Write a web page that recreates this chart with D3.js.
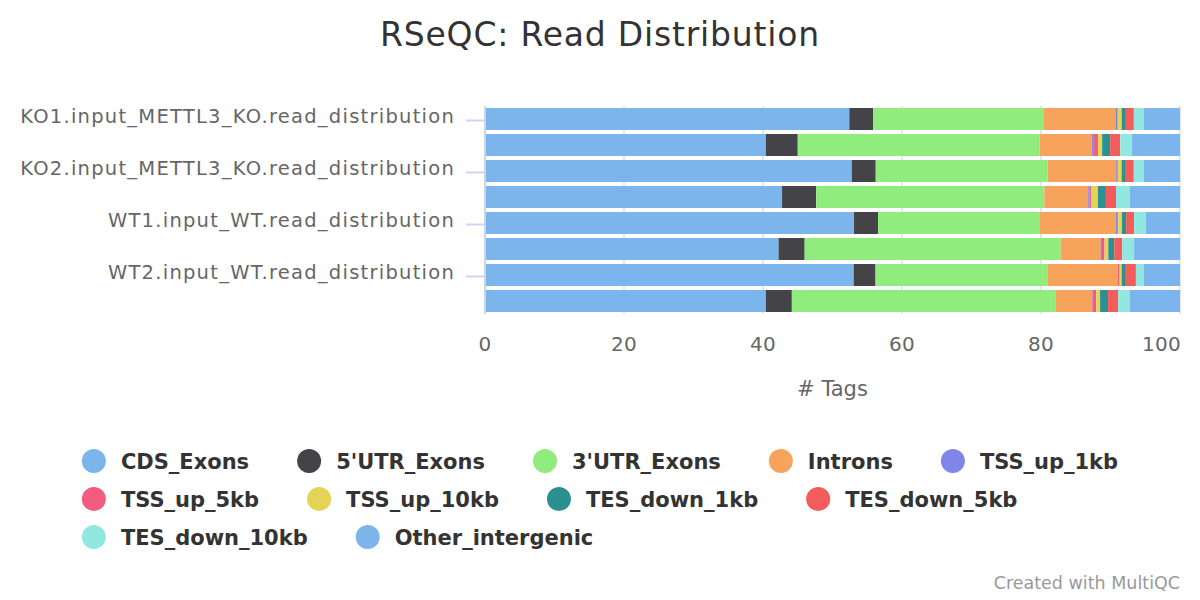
<!DOCTYPE html>
<html>
<head>
<meta charset="utf-8">
<script src="https://cdn.jsdelivr.net/npm/d3@7"></script>
<style>
  html, body { margin: 0; padding: 0; background: #fff; }
  svg { display: block; font-family: "DejaVu Sans", sans-serif; }
</style>
</head>
<body>
<svg id="chart" width="1200" height="600"></svg>
<script>
// ---------------- data ----------------
const categories = [
  "KO1.input_METTL3_KO.read_distribution",
  "KO1.IP_METTL3_KO.read_distribution",
  "KO2.input_METTL3_KO.read_distribution",
  "KO2.IP_METTL3_KO.read_distribution",
  "WT1.input_WT.read_distribution",
  "WT1.IP_WT.read_distribution",
  "WT2.input_WT.read_distribution",
  "WT2.IP_WT.read_distribution"
];
const seriesNames = ["CDS_Exons", "5'UTR_Exons", "3'UTR_Exons", "Introns", "TSS_up_1kb",
  "TSS_up_5kb", "TSS_up_10kb", "TES_down_1kb", "TES_down_5kb", "TES_down_10kb", "Other_intergenic"];
const seriesColors = ["#7cb5ec", "#434348", "#90ed7d", "#f7a35c", "#8085e9",
  "#f15c80", "#e4d354", "#2b908f", "#f45b5b", "#91e8e1", "#7cb5ec"];

const CDS_Exons        = [52.5, 40.4, 52.8, 42.7, 53.1, 42.2, 53.1, 40.4];
const UTR5_Exons       = [3.45, 4.6, 3.45, 4.9, 3.45, 3.75, 3.15, 3.75];
const UTR3_Exons       = [24.5, 34.8, 24.75, 32.8, 23.3, 36.8, 24.75, 38.0];
const Introns          = [10.4, 7.5, 9.8, 6.3, 10.9, 5.75, 10.1, 5.2];
const TSS_up_1kb       = [0.3, 0.3, 0.15, 0.2, 0.3, 0.05, 0.05, 0.05];
const TSS_up_5kb       = [0.05, 0.6, 0.15, 0.2, 0.05, 0.5, 0.25, 0.55];
const TSS_up_10kb      = [0.55, 0.6, 0.55, 1.0, 0.55, 0.55, 0.3, 0.55];
const TES_down_1kb     = [0.6, 1.15, 0.6, 1.15, 0.6, 0.85, 0.6, 1.15];
const TES_down_5kb     = [1.15, 1.45, 1.15, 1.45, 1.15, 1.15, 1.45, 1.45];
const TES_down_10kb    = [1.45, 1.7, 1.45, 2.0, 1.7, 1.7, 1.15, 1.7];
const Other_intergenic = [5.2, 6.9, 5.2, 7.2, 4.9, 6.6, 5.2, 7.2];

const xTicks = [0, 20, 40, 60, 80, 100];
const titleText = "RSeQC: Read Distribution";
const xAxisTitle = "# Tags";
const creditText = "Created with MultiQC";

// ---------------- build table ----------------
const seriesValues = [CDS_Exons, UTR5_Exons, UTR3_Exons, Introns, TSS_up_1kb, TSS_up_5kb,
  TSS_up_10kb, TES_down_1kb, TES_down_5kb, TES_down_10kb, Other_intergenic];
const table = categories.map((c, i) => {
  const row = { category: c };
  seriesNames.forEach((s, j) => row[s] = seriesValues[j][i]);
  return row;
});
const stacked = d3.stack().keys(seriesNames).offset(d3.stackOffsetExpand)(table);

// ---------------- layout ----------------
const svg = d3.select("#chart");
const plot = { left: 485, right: 1180, top: 106, bottom: 314 };

const x = d3.scaleLinear().domain([0, 100]).range([plot.left, plot.right]);
const y = d3.scaleBand().domain(categories).range([plot.top, plot.bottom])
  .paddingInner(4 / 26).paddingOuter(2 / 26);

// title
svg.append("text")
  .attr("x", 600).attr("y", 46)
  .attr("text-anchor", "middle")
  .attr("font-size", 33).attr("letter-spacing", 0.8)
  .attr("fill", "#333333")
  .text(titleText);

// grid lines
svg.append("g").selectAll("line").data(xTicks).join("line")
  .attr("x1", d => x(d)).attr("x2", d => x(d))
  .attr("y1", plot.top).attr("y2", plot.bottom)
  .attr("stroke", "#e6e6e6").attr("stroke-width", 2);

// bars
const barG = svg.append("g");
stacked.forEach((layer, j) => {
  barG.append("g").attr("fill", seriesColors[j])
    .selectAll("rect").data(layer).join("rect")
    .attr("x", d => x(d[0] * 100))
    .attr("width", d => Math.max(0, x(d[1] * 100) - x(d[0] * 100)))
    .attr("y", d => y(d.data.category))
    .attr("height", y.bandwidth());
});

// y axis line and ticks
svg.append("line")
  .attr("x1", plot.left).attr("x2", plot.left)
  .attr("y1", plot.top).attr("y2", plot.bottom)
  .attr("stroke", "#ccd6eb").attr("stroke-width", 2);

const shownCats = categories.filter((c, i) => i % 2 === 0);
const yAxisG = svg.append("g");
yAxisG.selectAll("line").data(shownCats).join("line")
  .attr("x1", 466).attr("x2", plot.left)
  .attr("y1", d => y(d) + y.bandwidth() / 2 + 1.5)
  .attr("y2", d => y(d) + y.bandwidth() / 2 + 1.5)
  .attr("stroke", "#ccd6eb").attr("stroke-width", 2);
yAxisG.selectAll("text").data(shownCats).join("text")
  .attr("x", 455)
  .attr("y", d => y(d) + y.bandwidth() / 2 + 4)
  .attr("text-anchor", "end")
  .attr("font-size", 19.5).attr("letter-spacing", 1.25)
  .attr("fill", "#666666")
  .text(d => d);

// x axis labels
svg.append("g").selectAll("text").data(xTicks).join("text")
  .attr("x", (d, i) => i === xTicks.length - 1 ? plot.right + 1 : x(d))
  .attr("y", 351)
  .attr("text-anchor", (d, i) => i === xTicks.length - 1 ? "end" : "middle")
  .attr("font-size", 20).attr("letter-spacing", 0.3)
  .attr("fill", "#666666")
  .text(d => d);

svg.append("text")
  .attr("x", (plot.left + plot.right) / 2).attr("y", 396)
  .attr("text-anchor", "middle")
  .attr("font-size", 21)
  .attr("fill", "#666666")
  .text(xAxisTitle);

// legend (flow layout, centred block)
const legendG = svg.append("g");
const items = seriesNames.map((name, j) => {
  const g = legendG.append("g");
  g.append("circle").attr("r", 12).attr("cx", 12).attr("fill", seriesColors[j]);
  const t = g.append("text").attr("x", 39).attr("y", 7.5)
    .attr("font-size", 21).attr("font-weight", "bold").attr("fill", "#333333")
    .text(name);
  const w = 39 + t.node().getComputedTextLength();
  return { g, w };
});
const maxRow = 1100, gap = 48, rowY = [461, 499, 537];
const rows = [[]];
let cur = 0;
items.forEach(it => {
  const add = (rows[rows.length - 1].length ? gap : 0) + it.w;
  if (cur + add > maxRow && rows[rows.length - 1].length) {
    rows.push([]); cur = it.w;
  } else cur += add;
  rows[rows.length - 1].push(it);
});
const rowWidths = rows.map(r => d3.sum(r, it => it.w) + gap * (r.length - 1));
const startX = (1200 - d3.max(rowWidths)) / 2;
rows.forEach((r, ri) => {
  let px = startX;
  r.forEach(it => {
    it.g.attr("transform", `translate(${px},${rowY[ri]})`);
    px += it.w + gap;
  });
});

// credit
svg.append("text")
  .attr("x", 1180).attr("y", 589)
  .attr("text-anchor", "end")
  .attr("font-size", 17.5)
  .attr("fill", "#999999")
  .text(creditText);
</script>
</body>
</html>
